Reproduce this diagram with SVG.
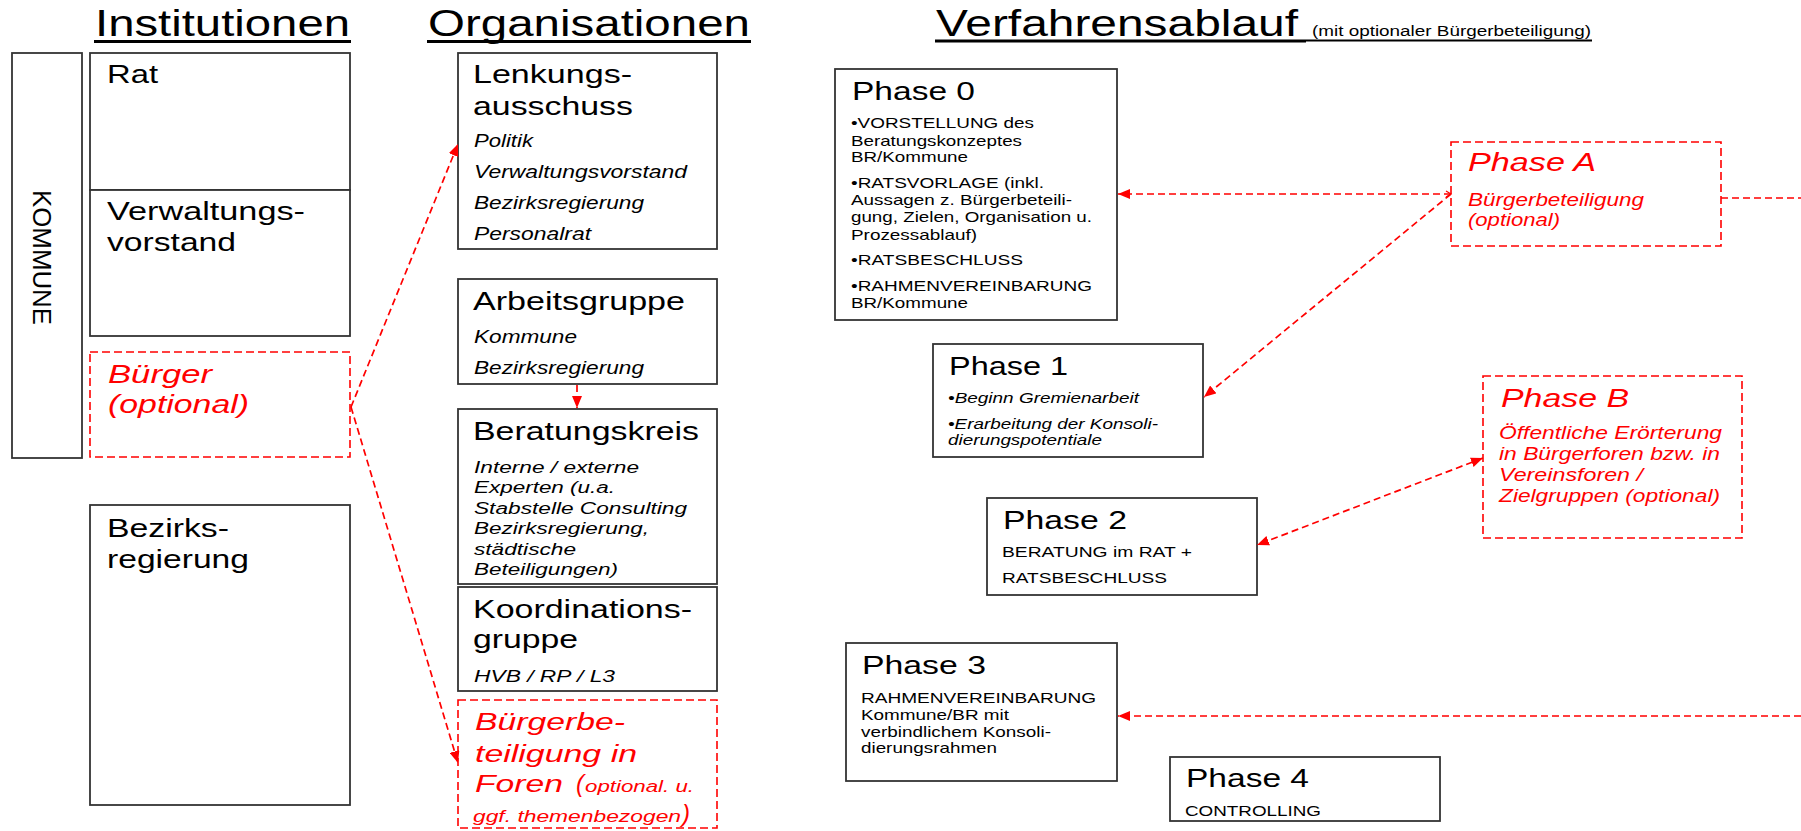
<svg xmlns="http://www.w3.org/2000/svg" width="1801" height="831" viewBox="0 0 1801 831">
<style>
text{font-family:"Liberation Sans",Arial,Helvetica,sans-serif;fill:#000}
.ttl{font-size:36px}
.sub{font-size:14px}
.h{font-size:25px}
.i{font-style:italic}
.r{fill:#f00}
.m{font-size:18.5px}
.s16{font-size:16px}
.s15{font-size:15px}
.s14{font-size:14px}
.box{fill:#fff;stroke:#333;stroke-width:1.8}
.dbox{fill:none;stroke:#f00;stroke-width:1.6;stroke-dasharray:8 4}
.ul{stroke:#000;stroke-width:3}
.conn{fill:none;stroke:#f00;stroke-width:1.7;stroke-dasharray:7 4}
</style>
<defs>
<marker id="arr" markerUnits="userSpaceOnUse" markerWidth="12" markerHeight="10" refX="12" refY="5" orient="auto-start-reverse"><path d="M0,0 L12,5 L0,10 z" fill="#f00"/></marker>
<marker id="chev" markerUnits="userSpaceOnUse" markerWidth="8" markerHeight="8" refX="6" refY="4" orient="auto-start-reverse"><path d="M1,1 L6,4 L1,7" fill="none" stroke="#f00" stroke-width="1.2"/></marker>
</defs>
<rect width="1801" height="831" fill="#fff"/>

<g id="titles">
<text class="ttl" x="95" y="36" textLength="255" lengthAdjust="spacingAndGlyphs">Institutionen</text>
<line class="ul" x1="94" y1="41.5" x2="351" y2="41.5"/>
<text class="ttl" x="428" y="36" textLength="322" lengthAdjust="spacingAndGlyphs">Organisationen</text>
<line class="ul" x1="427" y1="41.5" x2="751" y2="41.5"/>
<text class="ttl" x="936" y="36" textLength="362" lengthAdjust="spacingAndGlyphs">Verfahrensablauf</text>
<text class="sub" x="1312" y="36" textLength="279" lengthAdjust="spacingAndGlyphs">(mit optionaler Bürgerbeteiligung)</text>
<line class="ul" x1="935" y1="41" x2="1306" y2="41"/>
<line x1="1306" y1="40.5" x2="1592" y2="40.5" stroke="#000" stroke-width="2"/>
</g>

<g id="kommune">
<rect class="box" x="12" y="53" width="70" height="405"/>
<text transform="translate(33,190) rotate(90)" x="0" y="0" font-size="26" textLength="135" lengthAdjust="spacingAndGlyphs">KOMMUNE</text>
</g>
<g id="rat">
<rect class="box" x="90" y="53" width="260" height="137"/>
<text class="h" x="107" y="83" textLength="51" lengthAdjust="spacingAndGlyphs">Rat</text>
</g>
<g id="verwaltungsvorstand">
<rect class="box" x="90" y="190" width="260" height="146"/>
<text class="h" x="107" y="220" textLength="198" lengthAdjust="spacingAndGlyphs">Verwaltungs-</text>
<text class="h" x="107" y="251" textLength="129" lengthAdjust="spacingAndGlyphs">vorstand</text>
</g>
<g id="buerger">
<rect class="dbox" x="90" y="352" width="260" height="105"/>
<text class="h i r" x="108" y="383" textLength="104" lengthAdjust="spacingAndGlyphs">Bürger</text>
<text class="h i r" x="108" y="413" textLength="141" lengthAdjust="spacingAndGlyphs">(optional)</text>
</g>
<g id="bezirksregierung">
<rect class="box" x="90" y="505" width="260" height="300"/>
<text class="h" x="107" y="537" textLength="122" lengthAdjust="spacingAndGlyphs">Bezirks-</text>
<text class="h" x="107" y="568" textLength="142" lengthAdjust="spacingAndGlyphs">regierung</text>
</g>

<g id="lenkungsausschuss">
<rect class="box" x="458" y="53" width="259" height="196"/>
<text class="h" x="473" y="83" textLength="159" lengthAdjust="spacingAndGlyphs">Lenkungs-</text>
<text class="h" x="473" y="115" textLength="160" lengthAdjust="spacingAndGlyphs">ausschuss</text>
<text class="m i" x="474" y="147" textLength="59" lengthAdjust="spacingAndGlyphs">Politik</text>
<text class="m i" x="474" y="178" textLength="213" lengthAdjust="spacingAndGlyphs">Verwaltungsvorstand</text>
<text class="m i" x="474" y="209" textLength="170" lengthAdjust="spacingAndGlyphs">Bezirksregierung</text>
<text class="m i" x="474" y="240" textLength="117" lengthAdjust="spacingAndGlyphs">Personalrat</text>
</g>
<g id="arbeitsgruppe">
<rect class="box" x="458" y="279" width="259" height="105"/>
<text class="h" x="473" y="310" textLength="212" lengthAdjust="spacingAndGlyphs">Arbeitsgruppe</text>
<text class="m i" x="474" y="343" textLength="103" lengthAdjust="spacingAndGlyphs">Kommune</text>
<text class="m i" x="474" y="374" textLength="170" lengthAdjust="spacingAndGlyphs">Bezirksregierung</text>
</g>
<g id="beratungskreis">
<rect class="box" x="458" y="409" width="259" height="175"/>
<text class="h" x="473" y="440" textLength="226" lengthAdjust="spacingAndGlyphs">Beratungskreis</text>
<text class="s16 i" x="474" y="473" textLength="165" lengthAdjust="spacingAndGlyphs">Interne / externe</text>
<text class="s16 i" x="474" y="493" textLength="141" lengthAdjust="spacingAndGlyphs">Experten (u.a.</text>
<text class="s16 i" x="474" y="514" textLength="213" lengthAdjust="spacingAndGlyphs">Stabstelle Consulting</text>
<text class="s16 i" x="474" y="534" textLength="175" lengthAdjust="spacingAndGlyphs">Bezirksregierung,</text>
<text class="s16 i" x="474" y="555" textLength="102" lengthAdjust="spacingAndGlyphs">städtische</text>
<text class="s16 i" x="474" y="575" textLength="144" lengthAdjust="spacingAndGlyphs">Beteiligungen)</text>
</g>
<g id="koordinationsgruppe">
<rect class="box" x="458" y="587" width="259" height="104"/>
<text class="h" x="473" y="618" textLength="219" lengthAdjust="spacingAndGlyphs">Koordinations-</text>
<text class="h" x="473" y="648" textLength="105" lengthAdjust="spacingAndGlyphs">gruppe</text>
<text class="i" font-size="17" x="474" y="682" textLength="141" lengthAdjust="spacingAndGlyphs">HVB / RP / L3</text>
</g>
<g id="buergerforen">
<rect class="dbox" x="458" y="700" width="259" height="128"/>
<text class="i r" font-size="24" x="475" y="730" textLength="150" lengthAdjust="spacingAndGlyphs">Bürgerbe-</text>
<text class="i r" font-size="24" x="475" y="762" textLength="162" lengthAdjust="spacingAndGlyphs">teiligung in</text>
<text class="i r" font-size="24" x="475" y="792" textLength="88" lengthAdjust="spacingAndGlyphs">Foren</text>
<text class="i r" font-size="24" x="576" y="792">(</text>
<text class="i r" font-size="16" x="585" y="792" textLength="109" lengthAdjust="spacingAndGlyphs">optional. u.</text>
<text class="i r" font-size="16" x="473" y="822" textLength="208" lengthAdjust="spacingAndGlyphs">ggf. themenbezogen</text>
<text class="i r" font-size="24" x="682" y="822">)</text>
</g>

<g id="phase0">
<rect class="box" x="835" y="69" width="282" height="251"/>
<text class="h" x="852" y="100" textLength="123" lengthAdjust="spacingAndGlyphs">Phase 0</text>
<text class="s15" x="851" y="128" textLength="183" lengthAdjust="spacingAndGlyphs">•VORSTELLUNG des</text>
<text class="s15" x="851" y="146" textLength="171" lengthAdjust="spacingAndGlyphs">Beratungskonzeptes</text>
<text class="s15" x="851" y="162" textLength="117" lengthAdjust="spacingAndGlyphs">BR/Kommune</text>
<text class="s15" x="851" y="188" textLength="193" lengthAdjust="spacingAndGlyphs">•RATSVORLAGE (inkl.</text>
<text class="s15" x="851" y="205" textLength="221" lengthAdjust="spacingAndGlyphs">Aussagen z. Bürgerbeteili-</text>
<text class="s15" x="851" y="222" textLength="241" lengthAdjust="spacingAndGlyphs">gung, Zielen, Organisation u.</text>
<text class="s15" x="851" y="240" textLength="126" lengthAdjust="spacingAndGlyphs">Prozessablauf)</text>
<text class="s15" x="851" y="265" textLength="172" lengthAdjust="spacingAndGlyphs">•RATSBESCHLUSS</text>
<text class="s15" x="851" y="291" textLength="241" lengthAdjust="spacingAndGlyphs">•RAHMENVEREINBARUNG</text>
<text class="s15" x="851" y="308" textLength="117" lengthAdjust="spacingAndGlyphs">BR/Kommune</text>
</g>
<g id="phase1">
<rect class="box" x="933" y="344" width="270" height="113"/>
<text class="h" x="949" y="375" textLength="119" lengthAdjust="spacingAndGlyphs">Phase 1</text>
<text class="s14 i" x="948" y="403" textLength="191" lengthAdjust="spacingAndGlyphs">•Beginn Gremienarbeit</text>
<text class="s14 i" x="948" y="429" textLength="210" lengthAdjust="spacingAndGlyphs">•Erarbeitung der Konsoli-</text>
<text class="s14 i" x="948" y="445" textLength="154" lengthAdjust="spacingAndGlyphs">dierungspotentiale</text>
</g>
<g id="phase2">
<rect class="box" x="987" y="498" width="270" height="97"/>
<text class="h" x="1003" y="529" textLength="124" lengthAdjust="spacingAndGlyphs">Phase 2</text>
<text font-size="15.5" x="1002" y="557" textLength="190" lengthAdjust="spacingAndGlyphs">BERATUNG im RAT +</text>
<text font-size="15.5" x="1002" y="583" textLength="165" lengthAdjust="spacingAndGlyphs">RATSBESCHLUSS</text>
</g>
<g id="phase3">
<rect class="box" x="846" y="643" width="271" height="138"/>
<text class="h" x="862" y="674" textLength="124" lengthAdjust="spacingAndGlyphs">Phase 3</text>
<text class="s15" x="861" y="703" textLength="235" lengthAdjust="spacingAndGlyphs">RAHMENVEREINBARUNG</text>
<text class="s15" x="861" y="720" textLength="148" lengthAdjust="spacingAndGlyphs">Kommune/BR mit</text>
<text class="s15" x="861" y="737" textLength="190" lengthAdjust="spacingAndGlyphs">verbindlichem Konsoli-</text>
<text class="s15" x="861" y="753" textLength="136" lengthAdjust="spacingAndGlyphs">dierungsrahmen</text>
</g>
<g id="phase4">
<rect class="box" x="1170" y="757" width="270" height="64"/>
<text class="h" x="1186" y="787" textLength="123" lengthAdjust="spacingAndGlyphs">Phase 4</text>
<text font-size="14.5" x="1185" y="816" textLength="136" lengthAdjust="spacingAndGlyphs">CONTROLLING</text>
</g>
<g id="phaseA">
<rect class="dbox" x="1451" y="142" width="270" height="104"/>
<text class="h i r" x="1468" y="171" textLength="128" lengthAdjust="spacingAndGlyphs">Phase A</text>
<text class="i r" font-size="17.5" x="1468" y="206" textLength="176" lengthAdjust="spacingAndGlyphs">Bürgerbeteiligung</text>
<text class="i r" font-size="17.5" x="1468" y="226" textLength="92" lengthAdjust="spacingAndGlyphs">(optional)</text>
</g>
<g id="phaseB">
<rect class="dbox" x="1483" y="376" width="259" height="162"/>
<text class="h i r" x="1501" y="407" textLength="128" lengthAdjust="spacingAndGlyphs">Phase B</text>
<text class="i r" font-size="17.5" x="1499" y="439" textLength="223" lengthAdjust="spacingAndGlyphs">Öffentliche Erörterung</text>
<text class="i r" font-size="17.5" x="1499" y="460" textLength="221" lengthAdjust="spacingAndGlyphs">in Bürgerforen bzw. in</text>
<text class="i r" font-size="17.5" x="1499" y="481" textLength="144" lengthAdjust="spacingAndGlyphs">Vereinsforen /</text>
<text class="i r" font-size="17.5" x="1499" y="502" textLength="221" lengthAdjust="spacingAndGlyphs">Zielgruppen (optional)</text>
</g>

<g id="connectors">
<line class="conn" x1="351" y1="407" x2="458" y2="144" marker-end="url(#arr)"/>
<line class="conn" x1="351" y1="407" x2="458" y2="763" marker-end="url(#arr)"/>
<line class="conn" x1="577" y1="385" x2="577" y2="408" marker-end="url(#arr)"/>
<line class="conn" x1="1451" y1="194" x2="1118" y2="194" marker-start="url(#chev)" marker-end="url(#arr)"/>
<line class="conn" x1="1451" y1="194" x2="1204" y2="397" marker-end="url(#arr)"/>
<line class="conn" x1="1483" y1="458" x2="1257" y2="545" marker-start="url(#arr)" marker-end="url(#arr)"/>
<line class="conn" x1="1721" y1="198" x2="1801" y2="198"/>
<line class="conn" x1="1801" y1="716" x2="1118" y2="716" marker-end="url(#arr)"/>
</g>
</svg>
